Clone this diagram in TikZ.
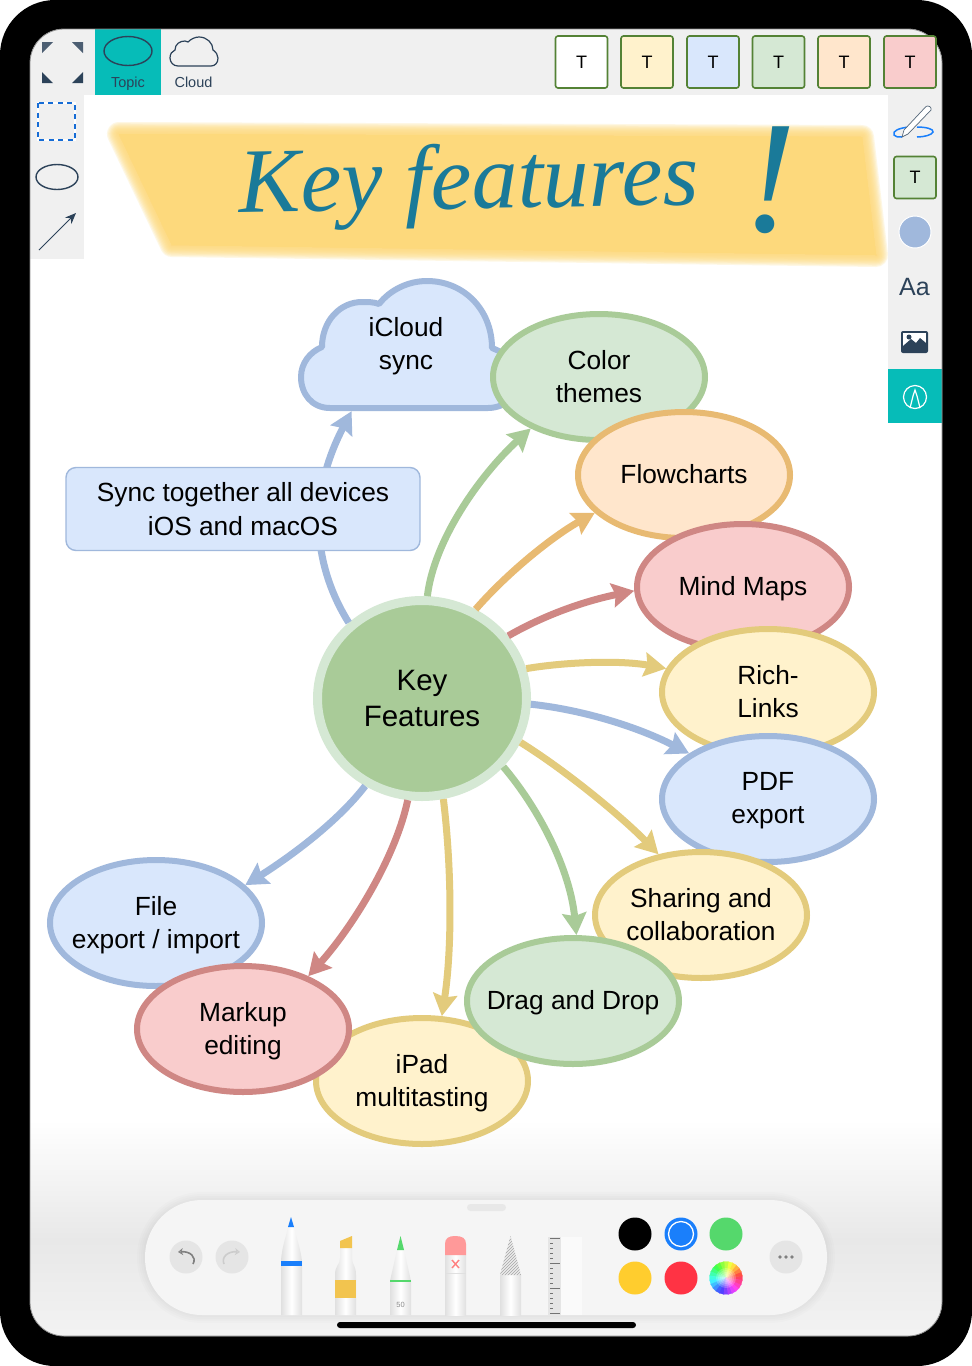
\documentclass[tikz,border=0pt]{standalone}
\usepackage{fontspec}
\setmainfont{Liberation Sans}
\newfontfamily\inkfont{Liberation Serif}
\usepackage{xcolor}
\usetikzlibrary{arrows.meta,shapes.geometric,patterns}

\definecolor{inkdark}{HTML}{2C4259}
\definecolor{teal}{HTML}{06BCB8}
\definecolor{barbg}{HTML}{F0F0F0}
\definecolor{btnline}{HTML}{548235}
\definecolor{greenfill}{HTML}{D5E8D4}
\definecolor{greenline}{HTML}{A9CB98}
\definecolor{orangefill}{HTML}{FFE6CC}
\definecolor{orangeline}{HTML}{E8BA72}
\definecolor{redfill}{HTML}{F9CCCC}
\definecolor{redline}{HTML}{CF8784}
\definecolor{yellowfill}{HTML}{FFF2CC}
\definecolor{yellowline}{HTML}{E3CB7C}
\definecolor{bluefill}{HTML}{D9E7FC}
\definecolor{blueline}{HTML}{A0B8DC}
\definecolor{banner}{HTML}{FDD97C}
\definecolor{inkteal}{HTML}{1A7A99}
\definecolor{pickblue}{HTML}{1A7FFB}
\definecolor{pickgreen}{HTML}{55D86C}
\definecolor{pickyellow}{HTML}{FFCD2E}
\definecolor{pickred}{HTML}{FF3344}
\definecolor{markeryellow}{HTML}{F2C44F}

\tikzset{
  topic/.style={ellipse,line width=6pt,minimum width=212pt,minimum height=126pt,inner sep=-30pt,text depth=1.5pt,
    align=center,font=\fontsize{26.3}{33.2}\selectfont},
  greentopic/.style={topic,fill=greenfill,draw=greenline},
  orangetopic/.style={topic,fill=orangefill,draw=orangeline},
  redtopic/.style={topic,fill=redfill,draw=redline},
  yellowtopic/.style={topic,fill=yellowfill,draw=yellowline},
  bluetopic/.style={topic,fill=bluefill,draw=blueline},
  link/.style={line width=7pt,-{Stealth[length=22pt,width=24pt,inset=3pt]}},
  tbtn/.style={rectangle,draw=btnline,line width=1.6pt,rounded corners=2.5pt,minimum size=52pt,
    inner sep=0pt,font=\fontsize{18}{18}\selectfont},
  barlabel/.style={text=inkdark,text depth=0pt,font=\fontsize{14.5}{14.5}\selectfont},
  swatch/.style={circle,minimum size=33pt,inner sep=0pt},
  roundbtn/.style={circle,fill=black!10,minimum size=33pt,inner sep=0pt},
  toolbody/.style={left color=black!12,right color=black!12,middle color=white},
  iconline/.style={draw=inkdark,line width=1.4pt},
}

\begin{document}
\begin{tikzpicture}[x=1pt,y=-1pt]
  \useasboundingbox (0,0) rectangle (972,1366);
  \fill[black] (0,0) [rounded corners=55pt] rectangle (972,1366);
  \fill[white] (30,29) [rounded corners=34pt] rectangle (942,1336);

  % tool bars
  \begin{scope}
    \clip (30,29) [rounded corners=34pt] rectangle (942,1336);
    \fill[barbg] (30,29) rectangle (942,95);
    \fill[barbg] (30,29) rectangle (84,259);
    \fill[barbg] (888,29) rectangle (942,423);
    \fill[teal] (95,29) rectangle (161,95);
    \fill[teal] (888,369) rectangle (942,423);
    \shade[top color=white,bottom color=black!9] (30,1120) rectangle (942,1240);
    \shade[top color=black!9,bottom color=black!5] (30,1240) rectangle (942,1336);
  \end{scope}
  \draw[black!45,line width=.8pt] (30,29) [rounded corners=34pt] rectangle (942,1336);

  % corner handles
  \fill[inkdark!85] (42,42) -- (53,42) -- (42,53) -- cycle;
  \fill[inkdark!85] (72,42) -- (83,42) -- (83,53) -- cycle;
  \fill[inkdark] (42,72) -- (42,83) -- (53,83) -- cycle;
  \fill[inkdark] (83,72) -- (83,83) -- (72,83) -- cycle;

  % shapes on the top bar
  \draw[iconline] (128,51) ellipse (24pt and 14.5pt);
  \draw[iconline,line width=1.2pt] (178,66) .. controls (173,66) and (170,62) .. (170,58)
    .. controls (170,54) and (172,51) .. (175,50) .. controls (175,44) and (180,41) .. (185,41)
    .. controls (186,41) and (187,41) .. (188,42) .. controls (191,39) and (195,37) .. (199,37)
    .. controls (207,37) and (213,43) .. (213,50) .. controls (216,52) and (218,55) .. (218,58)
    .. controls (218,63) and (215,66) .. (211,66) -- cycle;
  \node[barlabel] (topiclabel) at (128,82) {Topic};
  \node[barlabel] (cloudlabel) at (193.5,82) {Cloud};

  \foreach \i/\x/\c in {1/581.5/white,2/647/yellowfill,3/713/bluefill,4/778.5/greenfill,5/844/orangefill,6/910/redfill}
    \node[tbtn,fill=\c] (btn\i) at (\x,62) {T};

  % left bar
  \draw[white,line width=2.4pt] (38,103) rectangle (75,140);
  \draw[pickblue!85!black,line width=2.4pt,dash pattern=on 5pt off 4.5pt] (38,103) rectangle (75,140);
  \draw[iconline] (57,177) ellipse (21pt and 12.5pt);
  \coordinate (arrowfrom) at (39,250);
  \coordinate (arrowto) at (76,213);
  \draw[draw=inkdark,line width=1pt,-{Stealth[length=11pt,width=9pt]}] (arrowfrom) -- (arrowto);

  % right bar
  \draw[pickblue,line width=1.5pt] (909,127) .. controls (899,128) and (892,131) .. (894,135) .. controls (895,137) and (898,137) .. (902,137);
  \draw[pickblue,line width=1.5pt] (917,127) .. controls (926,127) and (934,129) .. (933,132) .. controls (932,135) and (924,137) .. (917,137);
  \fill[white,draw=inkdark!80,line width=.7pt] (902,137) -- (904,130) -- (926,106.5) .. controls (928,105) and (932,107) .. (931,110) -- (908,134) -- cycle;
  \node[tbtn,fill=greenfill,minimum size=42pt] (btnside) at (915,177.5) {T};
  \node[circle,fill=blueline,draw=white,line width=1pt,minimum size=32pt,inner sep=0pt] (dotside) at (915,232) {};
  \node[text=inkdark,font=\fontsize{25}{25}\selectfont] (aa) at (914.5,287) {Aa};
  \fill[inkdark,rounded corners=2pt] (901,331) rectangle (928,353);
  \fill[white] (903,333) rectangle (926,346);
  \fill[inkdark] (903,346) -- (911,339) -- (916,343) -- (920,338) -- (926,343) -- (926,347) -- (903,347) -- cycle;
  \fill[inkdark] (909,337) circle[radius=2.5pt];
  \draw[white,line width=1.2pt] (915,397) circle[radius=11.5pt];
  \draw[white,line width=1.2pt] (910,408) -- (913,396) -- (915,390) -- (917,396) -- (920,408);

  % banner
  \foreach \w in {24,21.6,19.2,16.8,14.4,12,9.6,7.2,4.8,2.4}
    \path[fill=banner,draw=banner,opacity=.2,line width=\w pt,line join=round] (119,134) -- (862,137) -- (876,255) -- (172,245) -- cycle;
  \fill[banner] (119,134) -- (862,137) -- (876,255) -- (172,245) -- cycle;
  \node[text=inkteal,font=\inkfont\itshape\fontsize{92}{92}\selectfont,rotate=1] (title) at (469,186) {Key features};
  \node[text=inkteal,font=\inkfont\itshape\fontsize{160}{160}\selectfont] (bang) at (770,180) {!};

  % the map
  \draw[blueline,fill=bluefill,line width=6pt,line join=round] (330,408) .. controls (312,408) and (301,394) .. (301,377)
    .. controls (301,363) and (310,352) .. (322,347) .. controls (322,321) and (340,302) .. (362,302)
    .. controls (368,302) and (374,302) .. (379,304) .. controls (390,290) and (408,281) .. (427,281)
    .. controls (464,281) and (492,310) .. (492,348) .. controls (510,355) and (520,365) .. (520,378)
    .. controls (520,395) and (505,408) .. (488,408) -- cycle;
  \node[font=\fontsize{26.3}{33.2}\selectfont,align=center,minimum width=220pt,minimum height=134pt,inner sep=0pt,text depth=1.5pt] (icloud) at (406,344) {iCloud\\sync};

  \node[greentopic] (colors) at (599,377) {Color\\themes};
  \node[orangetopic] (flow) at (684,475) {Flowcharts};
  \node[redtopic] (mind) at (743,587) {Mind Maps};
  \node[yellowtopic] (rich) at (768,692) {Rich-\\Links};
  \node[bluetopic] (pdf) at (768,799) {PDF\\export};
  \node[yellowtopic] (sharing) at (701,915) {Sharing and\\collaboration};
  \node[yellowtopic] (ipad) at (422,1081) {iPad\\multitasting};
  \node[greentopic] (drag) at (573,1001) {Drag and Drop};
  \node[bluetopic] (file) at (156,923) {File\\export / import};
  \node[redtopic] (markup) at (243,1029) {Markup\\editing};

  \node[ellipse,fill=greenline,draw=greenfill,line width=9pt,minimum width=209pt,minimum height=196pt,inner sep=0pt,align=center,
    font=\fontsize{29.5}{36}\selectfont] (key) at (422,698.5) {Key\\Features};

  \draw[link,blueline] (key.134) .. controls (322,580) and (300,510) .. (icloud.231);
  \draw[link,greenline] (key.87) .. controls (434,540) and (480,475) .. (colors.217);
  \draw[link,orangeline] (key.59) .. controls (510,570) and (555,535) .. (flow.203);
  \draw[link,redline] (key.36) .. controls (550,612) and (590,600) .. (mind.182);
  \draw[link,yellowline] (key.16) .. controls (565,662) and (620,660) .. (rich.167);
  \draw[link,blueline] (key.-3) .. controls (585,710) and (640,728) .. (pdf.150);
  \draw[link,yellowline] (key.-24) .. controls (565,770) and (620,815) .. (sharing.125);
  \draw[link,greenline] (key.-40) .. controls (540,810) and (570,870) .. (drag.87);
  \draw[link,yellowline] (key.-78) .. controls (452,870) and (452,950) .. (ipad.73);
  \draw[link,redline] (key.262) .. controls (395,860) and (350,930) .. (markup.39);
  \draw[link,blueline] (key.237) .. controls (335,825) and (285,860) .. (file.23);

  \node[rectangle,rounded corners=10pt,fill=bluefill,draw=blueline,line width=1.4pt,minimum width=354pt,minimum height=83pt,
    align=center,font=\fontsize{26.3}{33.2}\selectfont] (syncbox) at (243,509) {Sync together all devices\\iOS and macOS};

  % pencil tray
  \foreach \w in {16,12,8,4}
    \draw[black,opacity=.012,line width=\w pt,rounded corners=57pt] (145,1200) rectangle (827,1315);
  \fill[black!4,rounded corners=57pt] (145,1200) rectangle (827,1315);
  \fill[black!9,rounded corners=3.5pt] (467,1204) rectangle (506,1211);

  \node[roundbtn] (undo) at (186,1257) {};
  \node[roundbtn] (redo) at (232,1257) {};
  \draw[black!50,line width=1.6pt,-{Stealth[length=5pt,width=7pt,open]}] (193,1264) .. controls (197,1257) and (190,1251) .. (178,1252);
  \draw[black!20,line width=1.6pt,-{Stealth[length=5pt,width=7pt,open]}] (224,1264) .. controls (221,1257) and (228,1251) .. (240,1252);

  % pen
  \path[toolbody] (281,1315) -- (281,1261) .. controls (282,1245) and (287,1235) .. (288,1226) -- (294,1226)
    .. controls (295,1235) and (300,1245) .. (302,1261) -- (302,1315) -- cycle;
  \fill[pickblue] (288,1227) -- (291,1217) -- (294,1227) -- cycle;
  \fill[pickblue] (281,1261) rectangle (302,1266);
  % marker
  \path[toolbody] (335,1315) -- (335,1275) .. controls (335,1265) and (340,1265) .. (340,1258) -- (340,1248) -- (352,1248) -- (352,1258)
    .. controls (352,1265) and (356,1265) .. (356,1275) -- (356,1315) -- cycle;
  \fill[markeryellow] (340,1248) -- (340,1241) -- (352,1236) -- (352,1248) -- cycle;
  \fill[markeryellow] (335,1280) rectangle (356,1298);
  % pencil
  \path[toolbody] (390,1315) -- (390,1281) -- (397,1250) -- (404,1250) -- (411,1281) -- (411,1315) -- cycle;
  \fill[pickgreen] (397,1250) -- (400.5,1236) -- (404,1250) -- cycle;
  \draw[pickgreen,line width=1.6pt] (390,1281) -- (411,1281);
  \node[text=black!45,font=\fontsize{7.5}{7.5}\selectfont] (fifty) at (400.5,1305) {50};
  % eraser
  \path[toolbody] (445,1255) rectangle (466,1315);
  \fill[red!40!white] (445,1255) -- (445,1244) .. controls (445,1238) and (449,1236) .. (455,1236)
    .. controls (462,1236) and (466,1238) .. (466,1244) -- (466,1255) -- cycle;
  \draw[red!50!white,line width=1.4pt] (452,1260) -- (459,1268) (459,1260) -- (452,1268);
  \draw[black!12,line width=.6pt] (445,1273) -- (466,1273);
  % hatched pencil
  \path[toolbody] (500,1275) rectangle (521,1315);
  \fill[black!8] (500,1275) -- (510.5,1236) -- (521,1275) -- cycle;
  \path[pattern=north east lines,pattern color=black!35] (500,1275) -- (510.5,1236) -- (521,1275) -- cycle;
  % ruler
  \fill[black!2] (548,1237) rectangle (582,1315);
  \fill[black!10] (548,1237) rectangle (561,1315);
  \foreach \n in {0,...,15}
    \draw[black!55,line width=.7pt] (550,1238+5*\n) -- (553,1238+5*\n);
  \foreach \n in {0,...,3}
    \draw[black!55,line width=.9pt] (550,1238+25*\n) -- (560,1238+25*\n);

  % colours
  \node[swatch,fill=black] (cblack) at (635,1234) {};
  \node[swatch,fill=pickblue] (cblue) at (681,1234) {};
  \draw[white,line width=1.3pt] (cblue) circle[radius=12.5pt];
  \node[swatch,fill=pickgreen] (cgreen) at (726,1234) {};
  \node[swatch,fill=pickyellow] (cyellow) at (635,1278) {};
  \node[swatch,fill=pickred] (cred) at (681,1278) {};
  \foreach \a in {0,15,...,345} {
    \pgfmathsetmacro\h{mod(\a+350,360)}
    \convertcolorspec{Hsb}{\h,.75,1}{rgb}\wedgespec
    \definecolor{wedge}{rgb}{\wedgespec}
    \fill[wedge,draw=wedge,line width=.2pt] (726,1278) -- ++(\a-8:16.5pt) arc[start angle=\a-8,end angle=\a+8,radius=16.5pt] -- cycle;
  }
  \foreach \r in {10,8,6,4,2}
    \fill[white,opacity=.22] (726,1278) circle[radius=\r pt];
  \node[roundbtn] (more) at (786,1257) {};
  \foreach \x in {780,786,792}
    \fill[black!50] (\x,1257) circle[radius=1.8pt];

  \fill[black,rounded corners=3pt] (337,1322) rectangle (636,1328);
\end{tikzpicture}
\end{document}
